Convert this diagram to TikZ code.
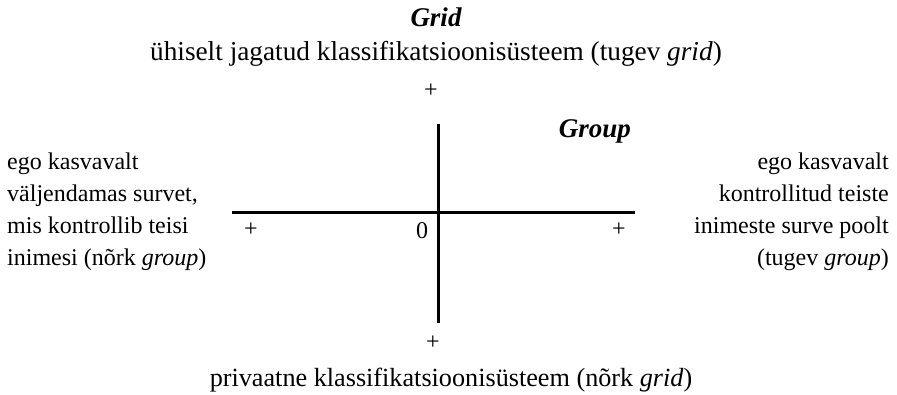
\documentclass[tikz,border=0pt]{standalone}
\usepackage{fontspec}
\setmainfont{Liberation Serif}
\begin{document}
\begin{tikzpicture}[x=1pt,y=-1pt,
  every node/.style={inner sep=0pt, font=\fontsize{26}{29}\selectfont},
  axisline/.style={line width=3pt},
  title/.style={anchor=base, font=\fontsize{27}{30}\selectfont\bfseries\itshape},
  lbl/.style={anchor=base},
  side/.style={font=\fontsize{24}{32}\selectfont},
  sign/.style={anchor=center, font=\fontsize{24}{29}\selectfont}]
\useasboundingbox (0,0) rectangle (897,395);
% axes
\coordinate (vt) at (438,124);
\coordinate (vb) at (438,323);
\coordinate (hl) at (232,213);
\coordinate (hr) at (635,213);
\draw[axisline] (vt) -- (vb);
\draw[axisline] (hl) -- (hr);
% titles
\node[title] (grid) at (436,27) {Grid};
\node[lbl, font=\fontsize{27.3}{30}\selectfont] (strong) at (436,61) {ühiselt jagatud klassifikatsioonisüsteem (tugev \textit{grid})};
\node[sign] (ptop) at (431,91) {+};
\node[title, anchor=base east] (group) at (631,138) {Group};
% left / right
\node[side, anchor=north west, align=left] (left) at (7,153)
  {ego kasvavalt\\väljendamas survet,\\mis kontrollib teisi\\inimesi (nõrk \textit{group})};
\node[side, anchor=north east, align=right] (right) at (889,153)
  {ego kasvavalt\\kontrollitud teiste\\inimeste surve poolt\\(tugev \textit{group})};
% signs
\node[sign] (pleft) at (251,230) {+};
\node[sign] (zero) at (422,231) {0};
\node[sign] (pright) at (619,230) {+};
\node[sign] (pbot) at (433,343) {+};
\node[lbl, font=\fontsize{26.2}{30}\selectfont] (weak) at (451,386) {privaatne klassifikatsioonisüsteem (nõrk \textit{grid})};
\end{tikzpicture}
\end{document}
